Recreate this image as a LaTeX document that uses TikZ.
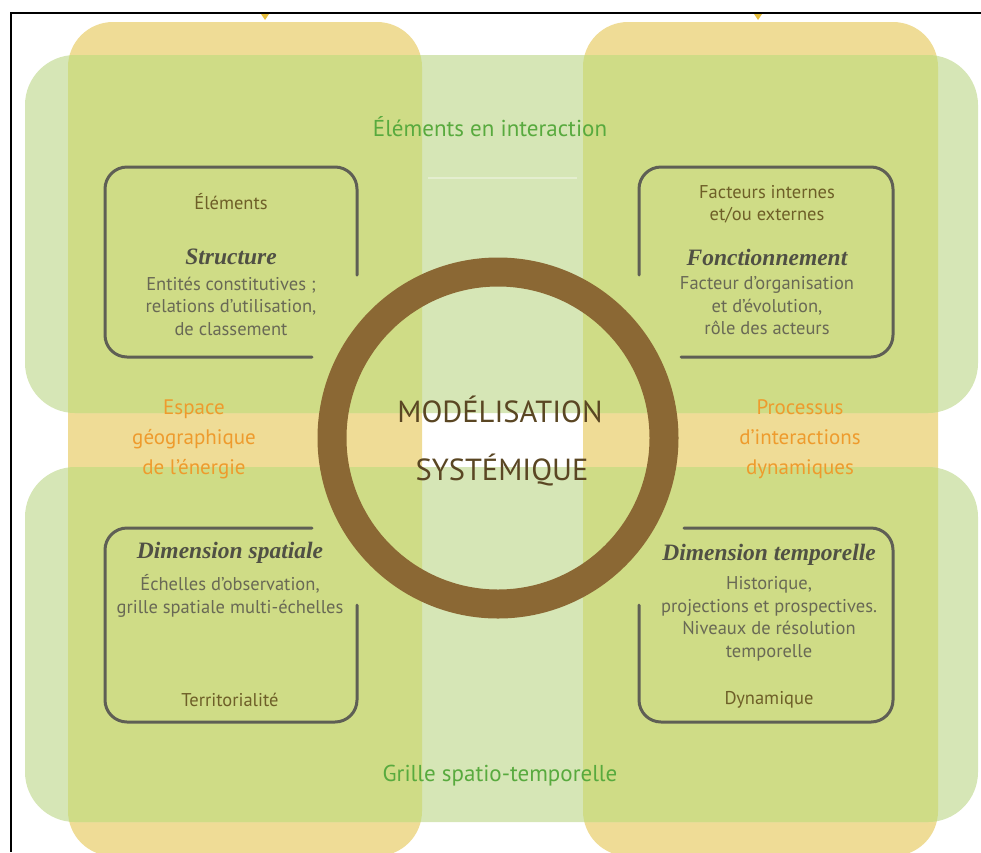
\documentclass[tikz,border=0pt]{standalone}
\usepackage{fontspec}
\setmainfont{PT Sans}
\newfontfamily\titlefont{Liberation Serif}
\definecolor{orcol}{RGB}{239,220,150}
\definecolor{grcol}{RGB}{214,230,182}
\definecolor{olcol}{RGB}{207,220,134}
\definecolor{ringcol}{RGB}{139,104,52}
\definecolor{boxgray}{RGB}{95,95,85}
\definecolor{greentxt}{RGB}{88,170,62}
\definecolor{orangetxt}{RGB}{238,155,45}
\definecolor{browntxt}{RGB}{90,70,35}
\definecolor{oltxt}{RGB}{110,95,40}
\definecolor{bodytxt}{RGB}{105,105,85}
\definecolor{titletxt}{RGB}{80,80,68}
\definecolor{markcol}{RGB}{230,190,60}
\begin{document}
\begin{tikzpicture}[x=1pt,y=-1pt,
  boxline/.style={line width=3pt, draw=boxgray, rounded corners=22pt, line cap=round},
  colshape/.style={rounded corners=45pt},
  bandshape/.style={rounded corners=50pt},
  bandlabel/.style={text=greentxt, font=\fontsize{23}{27}\selectfont, inner sep=0pt},
  sidelabel/.style={text=orangetxt, font=\fontsize{21}{30}\selectfont, align=center, inner sep=0pt},
  centerlabel/.style={text=browntxt, font=\fontsize{30.5}{34}\selectfont, inner sep=0pt},
  keyword/.style={text=oltxt, font=\fontsize{18.5}{22}\selectfont, align=center, inner sep=0pt},
  titletext/.style={text=titletxt, font=\titlefont\bfseries\itshape\fontsize{23.5}{27}\selectfont, inner sep=0pt},
  bodytext/.style={text=bodytxt, font=\fontsize{18.5}{22.5}\selectfont, align=center, inner sep=0pt}]
\useasboundingbox (0,0) rectangle (981,852);
\begin{scope}
\clip (0,0) rectangle (981,852);
% orange columns
\fill[orcol, colshape] (68,22) rectangle (422,856);
\fill[orcol, colshape] (583,22) rectangle (938,856);
% green bands
\fill[grcol, bandshape] (25,55) rectangle (978,413);
\fill[grcol, bandshape] (25,467) rectangle (978,822);
% overlaps
\begin{scope}
\clip[colshape] (68,22) rectangle (422,856) (583,22) rectangle (938,856);
\fill[olcol, bandshape] (25,55) rectangle (978,413);
\fill[olcol, bandshape] (25,467) rectangle (978,822);
\end{scope}
% faint line
\draw[white, opacity=0.35, line width=1.5pt] (428,178) -- (577,178);
\end{scope}
% frame
\draw[line width=2.2pt] (981,13) -- (11,13) -- (11,852);
\fill[markcol] (261,14) -- (269,14) -- (265,20) -- cycle;
\fill[markcol] (754,14) -- (762,14) -- (758,20) -- cycle;
% boxes
\draw[boxline] (357,275) -- (357,167) -- (105,167) -- (105,357) -- (312,357);
\draw[boxline] (639,275) -- (639,167) -- (893,167) -- (893,357) -- (681,357);
\draw[boxline] (312,528) -- (105,528) -- (105,722) -- (357,722) -- (357,605);
\draw[boxline] (684,528) -- (893,528) -- (893,722) -- (639,722) -- (639,605);
% ring
\draw[ringcol, line width=29pt] (498,438) circle[radius=166pt];
% labels
\node[bandlabel] (top) at (490,127) {Éléments en interaction};
\node[bandlabel] (bottom) at (500,776) {Grille spatio-temporelle};
\node[sidelabel] (left) at (194,439) {Espace\\géographique\\de l'énergie};
\node[sidelabel] (right) at (800,439) {Processus\\d'interactions\\dynamiques};
\node[centerlabel] (m1) at (500,409) {MODÉLISATION};
\node[centerlabel] (m2) at (502,470) {SYSTÉMIQUE};
% Structure box
\node[keyword] (k1) at (231,202) {Éléments};
\node[titletext] (t1) at (231,257) {Structure};
\node[bodytext] (b1) at (231,306) {Entités constitutives ;\\relations d'utilisation,\\de classement};
% Fonctionnement box
\node[keyword] (k2) at (767,204) {Facteurs internes\\et/ou externes};
\node[titletext] (t2) at (767,257) {Fonctionnement};
\node[bodytext] (b2) at (767,306) {Facteur d'organisation\\et d'évolution,\\rôle des acteurs};
% Dimension spatiale box
\node[titletext] (t3) at (230,553) {Dimension spatiale};
\node[bodytext] (b3) at (230,596) {Échelles d'observation,\\grille spatiale multi-échelles};
\node[keyword] (k3) at (230,700) {Territorialité};
% Dimension temporelle box
\node[titletext] (t4) at (769,555) {Dimension temporelle};
\node[bodytext] (b4) at (769,619) {Historique,\\projections et prospectives.\\Niveaux de résolution\\temporelle};
\node[keyword] (k4) at (769,700) {Dynamique};
\end{tikzpicture}
\end{document}
